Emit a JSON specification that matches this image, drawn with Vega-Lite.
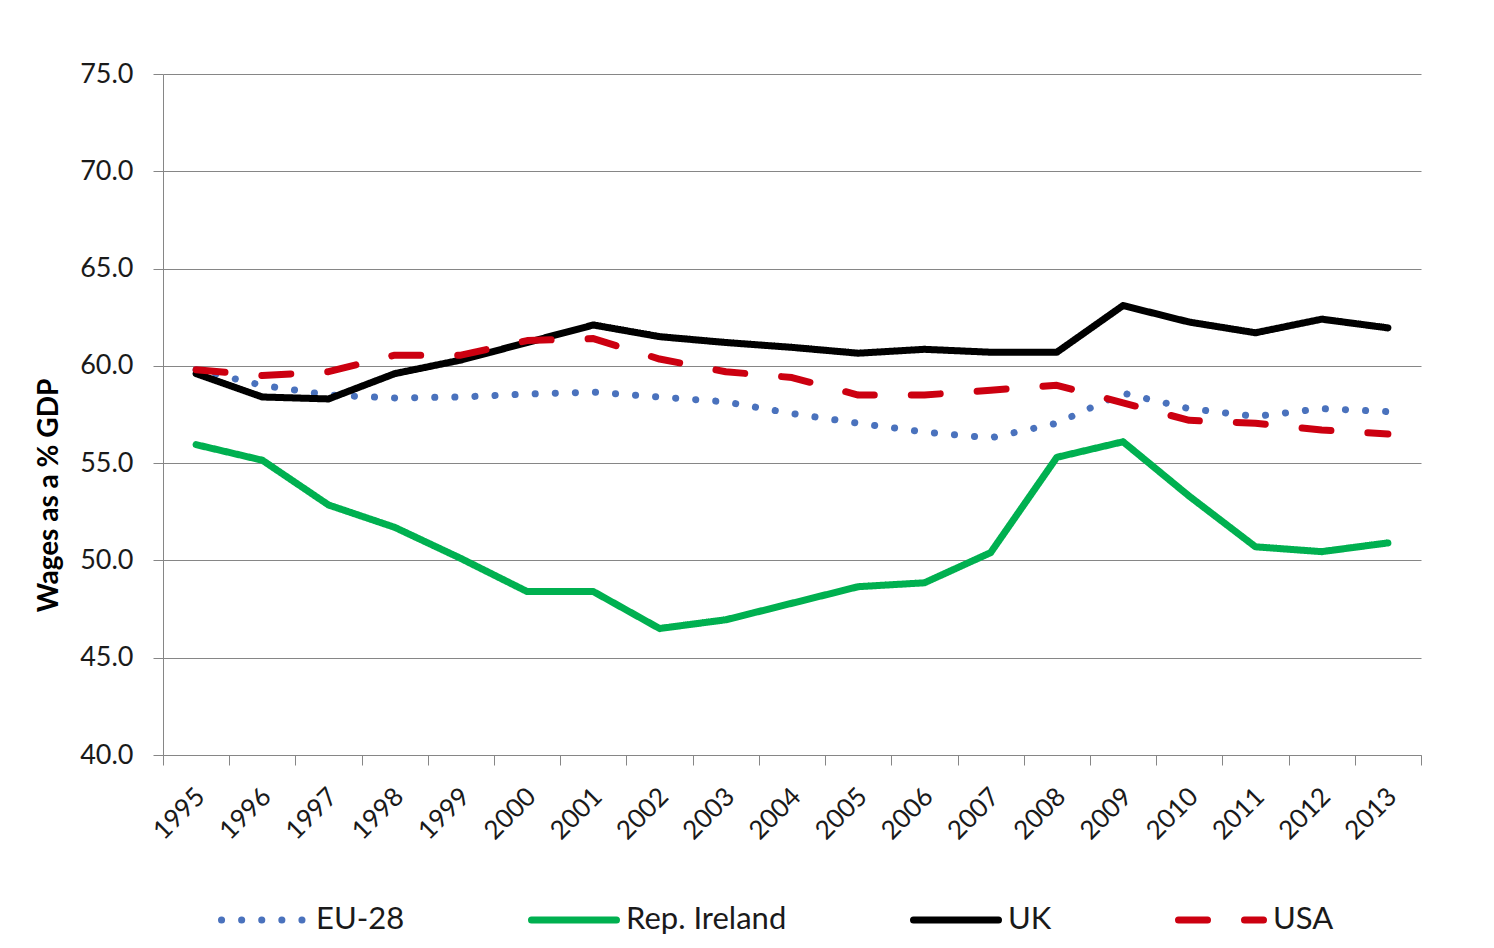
{
  "$schema": "https://vega.github.io/schema/vega-lite/v6.json",
  "width": 1258,
  "height": 681,
  "autosize": {"type": "none"},
  "padding": {"left": 163, "top": 74, "right": 73, "bottom": 193},
  "background": "white",
  "config": {"font": "Lato", "view": {"stroke": null}},
  "data": {
    "values": [
      {"year": "1995", "series": "EU-28", "value": 59.8},
      {"year": "1996", "series": "EU-28", "value": 59.0},
      {"year": "1997", "series": "EU-28", "value": 58.5},
      {"year": "1998", "series": "EU-28", "value": 58.35},
      {"year": "1999", "series": "EU-28", "value": 58.4},
      {"year": "2000", "series": "EU-28", "value": 58.55},
      {"year": "2001", "series": "EU-28", "value": 58.65},
      {"year": "2002", "series": "EU-28", "value": 58.4},
      {"year": "2003", "series": "EU-28", "value": 58.15},
      {"year": "2004", "series": "EU-28", "value": 57.55},
      {"year": "2005", "series": "EU-28", "value": 57.05},
      {"year": "2006", "series": "EU-28", "value": 56.6},
      {"year": "2007", "series": "EU-28", "value": 56.3},
      {"year": "2008", "series": "EU-28", "value": 57.05},
      {"year": "2009", "series": "EU-28", "value": 58.6},
      {"year": "2010", "series": "EU-28", "value": 57.8},
      {"year": "2011", "series": "EU-28", "value": 57.4},
      {"year": "2012", "series": "EU-28", "value": 57.8},
      {"year": "2013", "series": "EU-28", "value": 57.65},
      {"year": "1995", "series": "Rep. Ireland", "value": 55.95},
      {"year": "1996", "series": "Rep. Ireland", "value": 55.15},
      {"year": "1997", "series": "Rep. Ireland", "value": 52.85},
      {"year": "1998", "series": "Rep. Ireland", "value": 51.7},
      {"year": "1999", "series": "Rep. Ireland", "value": 50.1},
      {"year": "2000", "series": "Rep. Ireland", "value": 48.4},
      {"year": "2001", "series": "Rep. Ireland", "value": 48.4},
      {"year": "2002", "series": "Rep. Ireland", "value": 46.5},
      {"year": "2003", "series": "Rep. Ireland", "value": 46.95},
      {"year": "2004", "series": "Rep. Ireland", "value": 47.8},
      {"year": "2005", "series": "Rep. Ireland", "value": 48.65},
      {"year": "2006", "series": "Rep. Ireland", "value": 48.85},
      {"year": "2007", "series": "Rep. Ireland", "value": 50.4},
      {"year": "2008", "series": "Rep. Ireland", "value": 55.3},
      {"year": "2009", "series": "Rep. Ireland", "value": 56.1},
      {"year": "2010", "series": "Rep. Ireland", "value": 53.3},
      {"year": "2011", "series": "Rep. Ireland", "value": 50.7},
      {"year": "2012", "series": "Rep. Ireland", "value": 50.45},
      {"year": "2013", "series": "Rep. Ireland", "value": 50.9},
      {"year": "1995", "series": "UK", "value": 59.6},
      {"year": "1996", "series": "UK", "value": 58.4},
      {"year": "1997", "series": "UK", "value": 58.3},
      {"year": "1998", "series": "UK", "value": 59.6},
      {"year": "1999", "series": "UK", "value": 60.3},
      {"year": "2000", "series": "UK", "value": 61.2},
      {"year": "2001", "series": "UK", "value": 62.1},
      {"year": "2002", "series": "UK", "value": 61.5},
      {"year": "2003", "series": "UK", "value": 61.2},
      {"year": "2004", "series": "UK", "value": 60.95},
      {"year": "2005", "series": "UK", "value": 60.65},
      {"year": "2006", "series": "UK", "value": 60.85},
      {"year": "2007", "series": "UK", "value": 60.7},
      {"year": "2008", "series": "UK", "value": 60.7},
      {"year": "2009", "series": "UK", "value": 63.1},
      {"year": "2010", "series": "UK", "value": 62.25},
      {"year": "2011", "series": "UK", "value": 61.7},
      {"year": "2012", "series": "UK", "value": 62.4},
      {"year": "2013", "series": "UK", "value": 61.95},
      {"year": "1995", "series": "USA", "value": 59.8},
      {"year": "1996", "series": "USA", "value": 59.5},
      {"year": "1997", "series": "USA", "value": 59.7},
      {"year": "1998", "series": "USA", "value": 60.55},
      {"year": "1999", "series": "USA", "value": 60.55},
      {"year": "2000", "series": "USA", "value": 61.3},
      {"year": "2001", "series": "USA", "value": 61.4},
      {"year": "2002", "series": "USA", "value": 60.35},
      {"year": "2003", "series": "USA", "value": 59.7},
      {"year": "2004", "series": "USA", "value": 59.4},
      {"year": "2005", "series": "USA", "value": 58.5},
      {"year": "2006", "series": "USA", "value": 58.5},
      {"year": "2007", "series": "USA", "value": 58.75},
      {"year": "2008", "series": "USA", "value": 59.0},
      {"year": "2009", "series": "USA", "value": 58.1},
      {"year": "2010", "series": "USA", "value": 57.2},
      {"year": "2011", "series": "USA", "value": 57.05},
      {"year": "2012", "series": "USA", "value": 56.7},
      {"year": "2013", "series": "USA", "value": 56.5}
    ]
  },
  "mark": {"type": "line", "strokeCap": "round", "strokeJoin": "round"},
  "encoding": {
    "x": {
      "field": "year",
      "type": "ordinal",
      "scale": {"type": "band", "paddingInner": 0, "paddingOuter": 0},
      "axis": {
        "title": null,
        "labelAngle": -45,
        "labelFontSize": 26,
        "labelColor": "#1a1a1a",
        "labelPadding": 18,
        "labelOffset": -5,
        "tickBand": "extent",
        "tickSize": 10,
        "tickColor": "#868686",
        "domainColor": "#868686",
        "grid": false
      }
    },
    "y": {
      "field": "value",
      "type": "quantitative",
      "scale": {"domain": [40, 75], "nice": false, "zero": false},
      "axis": {
        "values": [40, 45, 50, 55, 60, 65, 70, 75],
        "format": ".1f",
        "title": "Wages as a % GDP",
        "titleFontSize": 28,
        "titleFontWeight": "bold",
        "titleColor": "#000000",
        "titlePadding": 16,
        "titleY": 421,
        "labelFontSize": 27,
        "labelColor": "#1a1a1a",
        "labelPadding": 20,
        "tickSize": 10,
        "tickColor": "#868686",
        "domainColor": "#868686",
        "grid": true,
        "gridColor": "#868686",
        "gridWidth": 1
      }
    },
    "color": {
      "field": "series",
      "type": "nominal",
      "scale": {"domain": ["EU-28", "Rep. Ireland", "UK", "USA"], "range": ["#4a72bd", "#00b050", "#000000", "#cc0010"]},
      "legend": {
        "title": null,
        "orient": "none",
        "legendX": 55,
        "legendY": 800,
        "direction": "horizontal",
        "symbolType": "stroke",
        "symbolSize": 7225,
        "labelFontSize": 31,
        "labelColor": "#1a1a1a",
        "labelOffset": 6,
        "labelLimit": 400,
        "columnPadding": 112,
        "encode": {"symbols": {"update": {"strokeCap": {"value": "round"}, "strokeWidth": {"value": 8}}}}
      }
    },
    "strokeDash": {
      "field": "series",
      "type": "nominal",
      "scale": {"domain": ["EU-28", "Rep. Ireland", "UK", "USA"], "range": [[0.1, 20], [1, 0], [1, 0], [29, 37]]},
      "legend": {
        "title": null,
        "orient": "none",
        "legendX": 55,
        "legendY": 800,
        "direction": "horizontal",
        "symbolType": "stroke",
        "symbolSize": 7225,
        "labelFontSize": 31,
        "labelColor": "#1a1a1a",
        "labelOffset": 6,
        "labelLimit": 400,
        "columnPadding": 112,
        "encode": {"symbols": {"update": {"strokeCap": {"value": "round"}, "strokeWidth": {"value": 8}}}}
      }
    },
    "strokeWidth": {
      "field": "series",
      "type": "nominal",
      "scale": {"domain": ["EU-28", "Rep. Ireland", "UK", "USA"], "range": [7, 7, 7, 9]},
      "legend": {
        "title": null,
        "orient": "none",
        "legendX": 55,
        "legendY": 800,
        "direction": "horizontal",
        "symbolType": "stroke",
        "symbolSize": 7225,
        "labelFontSize": 31,
        "labelColor": "#1a1a1a",
        "labelOffset": 6,
        "labelLimit": 400,
        "columnPadding": 112,
        "encode": {"symbols": {"update": {"strokeCap": {"value": "round"}, "strokeWidth": {"value": 8}}}}
      }
    }
  }
}
